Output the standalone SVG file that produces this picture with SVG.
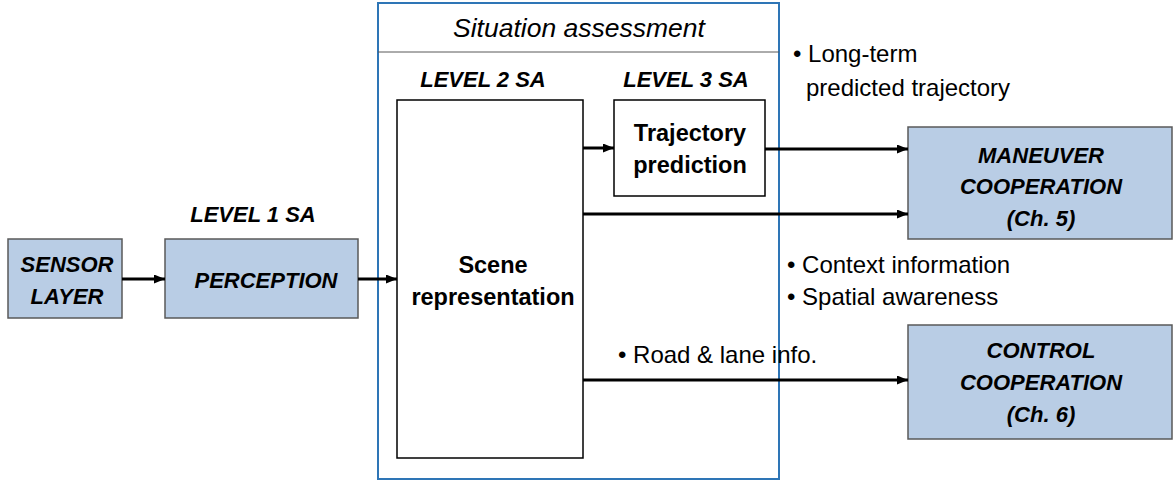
<svg xmlns="http://www.w3.org/2000/svg" width="1175" height="484" viewBox="0 0 1175 484">
<defs>
<marker id="ah" markerWidth="11" markerHeight="9" refX="11" refY="4.5" orient="auto" markerUnits="userSpaceOnUse">
<path d="M0,0 L11,4.5 L0,9 Z" fill="#000"/>
</marker>
<style>
text{font-family:"Liberation Sans",Arial,sans-serif;fill:#000}
.bi{font-weight:bold;font-style:italic;font-size:22px}
.b{font-weight:bold;font-size:23.5px}
.n{font-size:24px}
.blue{fill:#B9CDE5;stroke:#595959;stroke-width:1.5}
.white{fill:#fff;stroke:#000;stroke-width:1.5}
.conn{stroke:#000;stroke-width:3;fill:none;marker-end:url(#ah)}
</style>
</defs>
<rect width="1175" height="484" fill="#fff"/>
<g id="situation">
<rect x="378" y="3" width="401" height="476" fill="none" stroke="#2E75B6" stroke-width="2"/>
<line x1="378" y1="52" x2="779" y2="52" stroke="#595959" stroke-width="1"/>
<text x="579" y="37" text-anchor="middle" font-style="italic" font-size="26.5">Situation assessment</text>
<text x="483" y="87" text-anchor="middle" class="bi">LEVEL 2 SA</text>
<text x="686" y="87" text-anchor="middle" class="bi">LEVEL 3 SA</text>
</g>
<g id="sensor">
<rect x="8" y="239" width="114" height="79" class="blue"/>
<text x="67" y="272" text-anchor="middle" class="bi">SENSOR</text>
<text x="67" y="304" text-anchor="middle" class="bi">LAYER</text>
</g>
<g id="perception">
<text x="253" y="222" text-anchor="middle" class="bi">LEVEL 1 SA</text>
<rect x="165" y="239" width="193" height="79" class="blue"/>
<text x="266" y="288" text-anchor="middle" class="bi">PERCEPTION</text>
</g>
<g id="scene">
<rect x="397" y="100" width="186" height="358" class="white"/>
<text x="493" y="273" text-anchor="middle" class="b">Scene</text>
<text x="493" y="305" text-anchor="middle" class="b">representation</text>
</g>
<g id="trajectory">
<rect x="614" y="100" width="151" height="96" class="white"/>
<text x="690" y="141" text-anchor="middle" class="b">Trajectory</text>
<text x="690" y="173" text-anchor="middle" class="b">prediction</text>
</g>
<g id="maneuver">
<rect x="908" y="127" width="264" height="112" class="blue"/>
<text x="1041" y="163" text-anchor="middle" class="bi">MANEUVER</text>
<text x="1041" y="194" text-anchor="middle" class="bi">COOPERATION</text>
<text x="1041" y="226" text-anchor="middle" class="bi">(Ch. 5)</text>
</g>
<g id="control">
<rect x="908" y="325" width="264" height="114" class="blue"/>
<text x="1041" y="358" text-anchor="middle" class="bi">CONTROL</text>
<text x="1041" y="390" text-anchor="middle" class="bi">COOPERATION</text>
<text x="1041" y="422" text-anchor="middle" class="bi">(Ch. 6)</text>
</g>
<g id="connectors">
<line x1="122" y1="279" x2="165" y2="279" class="conn"/>
<line x1="358" y1="279" x2="397" y2="279" class="conn"/>
<line x1="583" y1="148" x2="614" y2="148" class="conn"/>
<line x1="765" y1="149" x2="908" y2="149" class="conn"/>
<line x1="583" y1="214" x2="908" y2="214" class="conn"/>
<line x1="583" y1="380" x2="908" y2="380" class="conn"/>
</g>
<g id="labels">
<text x="793" y="62" class="n">• Long-term</text>
<text x="806" y="96" class="n">predicted trajectory</text>
<text x="787" y="273" class="n">• Context information</text>
<text x="787" y="305" class="n">• Spatial awareness</text>
<text x="618" y="363" class="n">• Road &amp; lane info.</text>
</g>
</svg>
